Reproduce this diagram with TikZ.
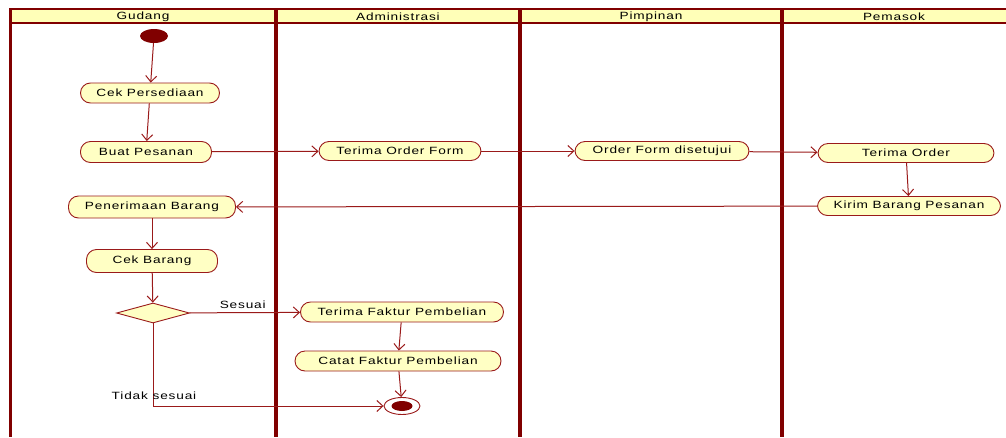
\documentclass[tikz,border=0pt]{standalone}
\usepackage{fontspec}
\setmainfont[FakeStretch=1.3,LetterSpace=8]{Liberation Sans}
\usetikzlibrary{arrows.meta,shapes.geometric}
\definecolor{lane}{HTML}{800000}
\definecolor{edge}{HTML}{9A1A1A}
\definecolor{act}{HTML}{FFFFC4}
\definecolor{hdr}{HTML}{FFFFB8}
\tikzset{
  activity/.style={draw=edge,fill=act,line width=0.9pt,rounded corners=10pt,minimum height=20pt,inner sep=0pt,font=\fontsize{10.5}{11}\selectfont},
  flow/.style={draw=edge,line width=1pt,-{Straight Barb[length=6pt,width=11pt,line width=1pt]}},
  lanesep/.style={draw=lane,line width=4pt},
  hdrtext/.style={font=\fontsize{10.5}{11}\selectfont},
  lbl/.style={font=\fontsize{10.5}{11}\selectfont}
}
\begin{document}
\begin{tikzpicture}[x=1pt,y=-1pt]
\useasboundingbox (0,0) rectangle (1006,437);
% header
\fill[hdr] (10,9) rectangle (1006,23);
\draw[lane,line width=1.2pt] (10,9) -- (1006,9);
\draw[lane,line width=1.2pt] (10,23) -- (1006,23);
\node[hdrtext] (hg) at (143,17) {Gudang};
\node[hdrtext] (ha) at (398,17) {Administrasi};
\node[hdrtext] (hp) at (651,17) {Pimpinan};
\node[hdrtext] (hm) at (894,17) {Pemasok};
% lanes
\draw[lane,line width=3pt] (10,8.4) -- (10,437);
\draw[lanesep] (276,8.4) -- (276,437);
\draw[lanesep] (520,8.4) -- (520,437);
\draw[lanesep] (782,8.4) -- (782,437);
% nodes
\node[ellipse,fill=lane,minimum width=28pt,minimum height=14pt,inner sep=0pt] (start) at (154,36) {};
\node[activity,minimum width=139pt] (cekp) at (150,93) {Cek Persediaan};
\node[activity,minimum width=131pt,minimum height=21pt] (buat) at (146,152) {Buat Pesanan};
\node[activity,minimum width=167pt,minimum height=22pt] (terima) at (152,207) {Penerimaan Barang};
\node[activity,minimum width=131pt,minimum height=23pt] (cekb) at (152,261) {Cek Barang};
\node[diamond,draw=edge,fill=act,line width=0.9pt,minimum width=73pt,minimum height=20pt,inner sep=0pt] (dec) at (153,313) {};
\node[activity,minimum width=162pt,minimum height=19pt] (tof) at (400,151) {Terima Order Form};
\node[activity,minimum width=174pt,minimum height=19pt] (ofd) at (662,151) {Order Form disetujui};
\node[activity,minimum width=176pt,minimum height=19pt] (to) at (906,153) {Terima Order};
\node[activity,minimum width=183pt,minimum height=19pt] (kbp) at (909,206) {Kirim Barang Pesanan};
\node[activity,minimum width=203pt] (tfp) at (402,312) {Terima Faktur Pembelian};
\node[activity,minimum width=206pt] (cfp) at (398,361) {Catat Faktur Pembelian};
\node[ellipse,draw=edge,fill=white,line width=0.9pt,minimum width=36pt,minimum height=17pt,inner sep=0pt] (end) at (402,406) {};
\node[ellipse,fill=lane,minimum width=21pt,minimum height=10pt,inner sep=0pt] (endin) at (end.center) {};
% flows
\draw[flow] (start) -- (cekp);
\draw[flow] (cekp) -- (buat);
\draw[flow] (buat) -- (tof);
\draw[flow] (tof) -- (ofd);
\draw[flow] (ofd) -- (to);
\draw[flow] (to) -- (kbp);
\draw[flow] (kbp) -- (terima);
\draw[flow] (terima) -- (cekb);
\draw[flow] (cekb) -- (dec);
\draw[flow] (dec) -- node[lbl,above,pos=0.5,xshift=-2pt] (ls) {Sesuai} (tfp);
\draw[flow] (tfp) -- (cfp);
\draw[flow] (cfp) -- (end);
\coordinate (corner) at (153,406);
\draw[flow] (dec.south) -- (corner) -- (end);
\node[lbl] (lt) at (154,396) {Tidak sesuai};
\end{tikzpicture}
\end{document}
